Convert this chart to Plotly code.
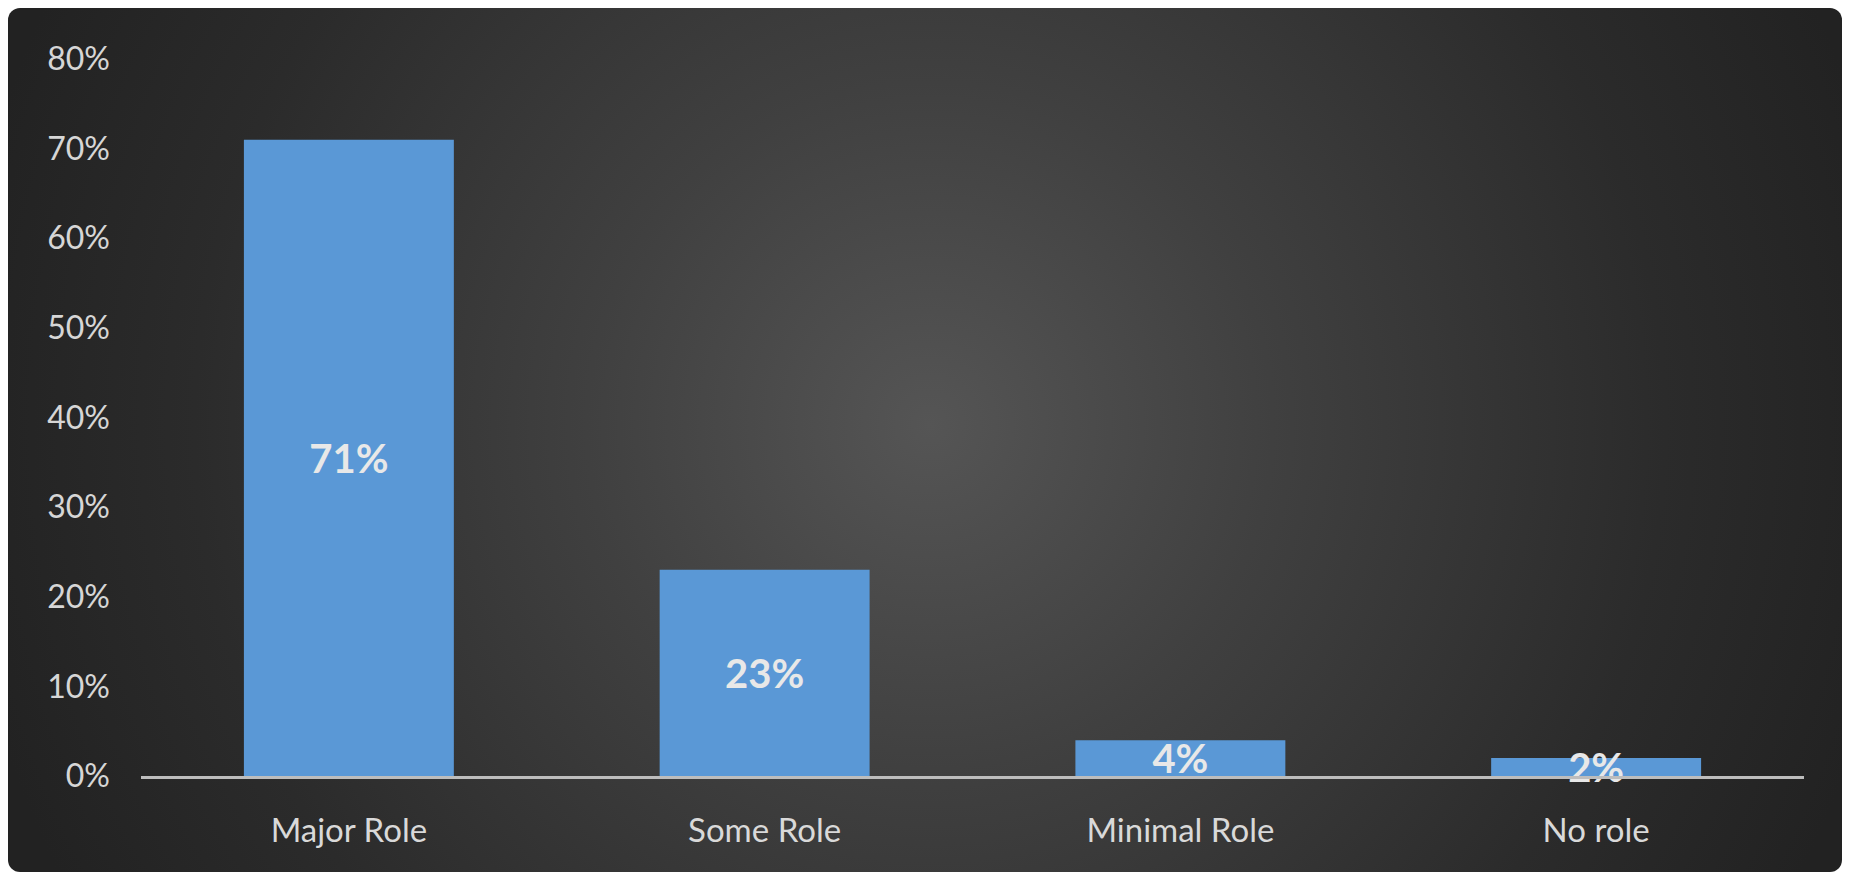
import base64
import plotly.graph_objects as go

categories = ["Major Role", "Some Role", "Minimal Role", "No role"]
values = [0.71, 0.23, 0.04, 0.02]
labels = ["71%", "23%", "4%", "2%"]
tick_vals = [0, 0.1, 0.2, 0.3, 0.4, 0.5, 0.6, 0.7, 0.8]

W, H = 1849, 875
ML, MR, MT, MB = 141, 45, 59, 99
PW, PH = W - ML - MR, H - MT - MB

svg = f'''<svg xmlns="http://www.w3.org/2000/svg" width="{W}" height="{H}" viewBox="0 0 {W} {H}">
<defs><radialGradient id="g" gradientUnits="userSpaceOnUse" cx="930" cy="425" r="980">
<stop offset="0" stop-color="#555555"/><stop offset="0.35" stop-color="#404040"/>
<stop offset="0.75" stop-color="#2b2b2b"/><stop offset="1" stop-color="#222222"/></radialGradient></defs>
<rect x="0" y="0" width="{W}" height="{H}" fill="#ffffff"/>
<rect x="8" y="8" width="1834" height="864" rx="12" ry="12" fill="url(#g)"/>
</svg>'''
src = "data:image/svg+xml;base64," + base64.b64encode(svg.encode()).decode()

fig = go.Figure()
fig.add_trace(go.Bar(
    x=categories, y=values, text=labels,
    textposition="inside", insidetextanchor="middle", constraintext="none",
    textangle=0, cliponaxis=False,
    textfont=dict(family="Lato", size=40, color="#e8e8e8", weight="bold"),
    marker=dict(color="#5a98d6", line=dict(width=0)),
    hoverinfo="skip",
))

fig.update_layout(
    width=W, height=H,
    margin=dict(l=ML, r=MR, t=MT, b=MB),
    paper_bgcolor="#ffffff", plot_bgcolor="rgba(0,0,0,0)",
    bargap=0.495, showlegend=False,
    font=dict(family="Lato", color="#d6d6d6"),
    images=[dict(source=src, xref="paper", yref="paper",
                 x=-ML / PW, y=1 + MT / PH, sizex=W / PW, sizey=H / PH,
                 xanchor="left", yanchor="top", sizing="stretch", layer="below")],
)
fig.update_xaxes(showline=True, linecolor="#bdbdbd", linewidth=3, showgrid=False,
                 tickfont=dict(size=33, color="#d9d9d9"), ticklabelstandoff=23)
fig.update_yaxes(range=[0, 0.8], tickvals=tick_vals, tickformat=".0%", showgrid=False,
                 zeroline=False, showline=False,
                 tickfont=dict(size=32, color="#d6d6d6"), ticklabelstandoff=30)

fig.write_html("out.html")
